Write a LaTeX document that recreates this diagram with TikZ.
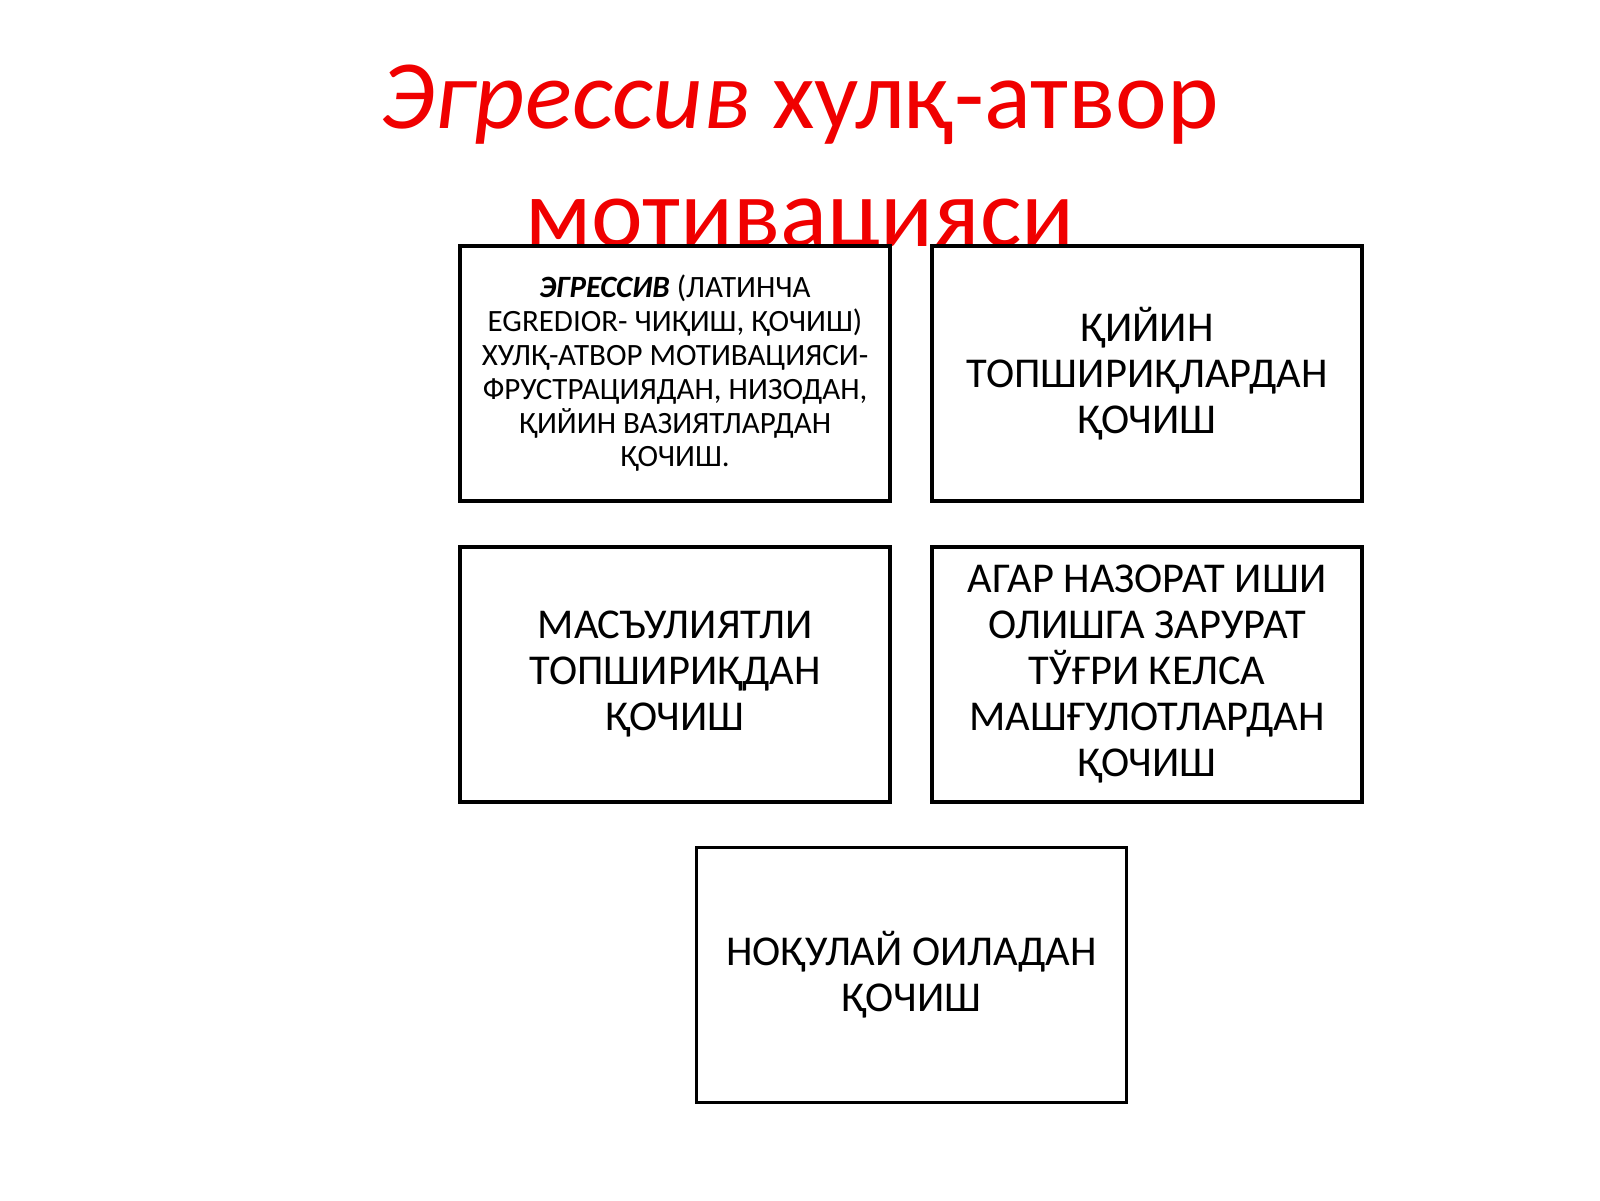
\documentclass[tikz,border=0pt]{standalone}
\usepackage{fontspec}
\setmainfont{Carlito}
\definecolor{titlered}{RGB}{240,0,0}
\begin{document}
\begin{tikzpicture}[x=1pt,y=-1pt,
  box/.style={draw=black,line width=3.5pt,fill=white,minimum width=430pt,minimum height=255pt,align=center,inner sep=0pt,font=\fontsize{42.5}{46}\selectfont},
  smallbox/.style={box,font=\fontsize{31}{33.8}\selectfont},
  titletext/.style={text=titlered,anchor=base,inner sep=0pt,font=\fontsize{98}{110}\selectfont}]
\fill[white] (0,0) rectangle (1600,1200);
\useasboundingbox (0,0) rectangle (1600,1200);
\node[titletext] (t1) at (800,128) {\textit{Эгрессив} хулқ-атвор};
\node[titletext] (t2) at (800,246) {мотивацияси};
\node[smallbox] (b1) at (675,373.5) {\textbf{\textit{ЭГРЕССИВ}} (ЛАТИНЧА\\EGREDIOR- ЧИҚИШ, ҚОЧИШ)\\ХУЛҚ-АТВОР МОТИВАЦИЯСИ-\\ФРУСТРАЦИЯДАН, НИЗОДАН,\\ҚИЙИН ВАЗИЯТЛАРДАН\\ҚОЧИШ.};
\node[box] (b2) at (1147,373.5) {ҚИЙИН\\ТОПШИРИҚЛАРДАН\\ҚОЧИШ};
\node[box] (b3) at (675,674.5) {МАСЪУЛИЯТЛИ\\ТОПШИРИҚДАН\\ҚОЧИШ};
\node[box] (b4) at (1147,674.5) {АГАР НАЗОРАТ ИШИ\\ОЛИШГА ЗАРУРАТ\\ТЎҒРИ КЕЛСА\\МАШҒУЛОТЛАРДАН\\ҚОЧИШ};
\node[box] (b5) at (911.5,975) {НОҚУЛАЙ ОИЛАДАН\\ҚОЧИШ};
\end{tikzpicture}
\end{document}
